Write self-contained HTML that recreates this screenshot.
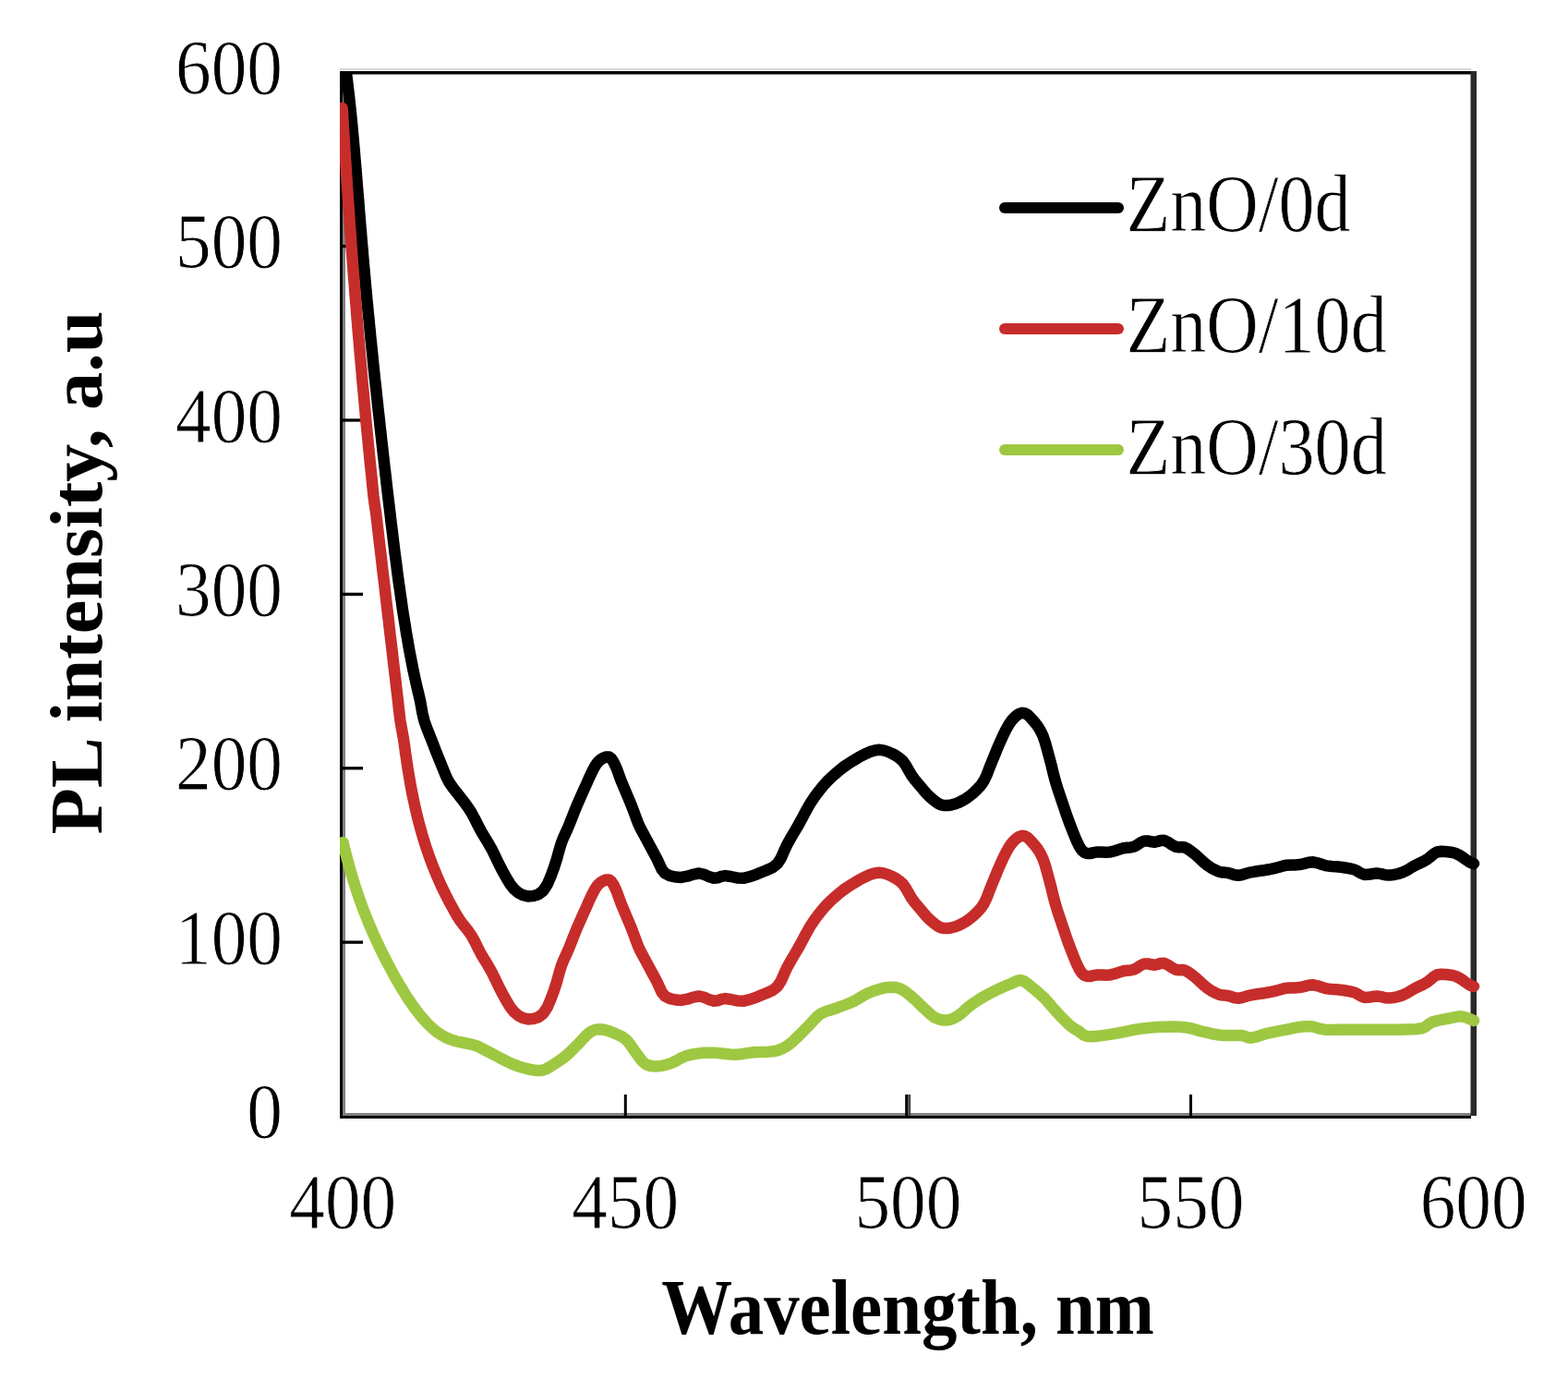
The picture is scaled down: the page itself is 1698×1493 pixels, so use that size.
<!DOCTYPE html>
<html><head><meta charset="utf-8"><title>PL intensity</title>
<style>html,body{margin:0;padding:0;background:#fff;}svg{display:block;}
text{font-family:"Liberation Serif","Times New Roman",serif;fill:#000;}
.t{stroke:#fff;stroke-width:0.8px;}</style></head>
<body>
<svg width="1698" height="1493" viewBox="0 0 1698 1493">
<rect width="1698" height="1493" fill="#fff"/>
<defs><clipPath id="pa"><rect x="368" y="77" width="1240" height="1134"/></clipPath></defs>
<rect x="368" y="74" width="1225" height="2" fill="#d8d8d8"/>
<rect x="368" y="77" width="1231" height="3.5" fill="#000"/>
<rect x="368" y="77" width="3" height="1134" fill="#000"/>
<rect x="371" y="80" width="3" height="1125" fill="#808080"/>
<rect x="371" y="1205" width="1222" height="3" fill="#808080"/>
<rect x="368" y="1208" width="1225" height="3" fill="#000"/>
<rect x="1592.5" y="77" width="6.5" height="1131" fill="#2a2a2a"/>
<rect x="675.8" y="1185" width="3" height="23" fill="#000"/>
<rect x="1288.0" y="1185" width="3" height="23" fill="#000"/>
<rect x="980.2" y="1185" width="3" height="23" fill="#000"/><rect x="983.2" y="1185" width="3" height="23" fill="#484848"/>
<rect x="371" y="1018.5" width="22" height="3.3" fill="#000"/>
<rect x="371" y="830.1" width="22" height="3.3" fill="#000"/>
<rect x="371" y="641.7" width="22" height="3.3" fill="#000"/>
<rect x="371" y="453.3" width="22" height="3.3" fill="#000"/>
<rect x="371" y="264.9" width="22" height="3.3" fill="#000"/>
<g clip-path="url(#pa)" fill="none" stroke-linejoin="round" stroke-linecap="round">
<path d="M374.8,78.0 L375.5,83.2 L376.4,90.6 L377.3,98.0 L378.1,104.7 L378.8,111.3 L379.5,118.0 L380.2,124.7 L380.9,131.3 L381.5,138.0 L382.1,144.7 L382.7,151.3 L383.3,158.0 L383.9,164.7 L384.4,171.3 L385.0,178.0 L385.6,184.7 L386.1,191.3 L386.6,198.0 L387.2,204.7 L387.7,211.3 L388.3,218.0 L388.8,224.7 L389.3,231.3 L389.9,238.0 L390.4,244.7 L391.0,251.3 L391.5,258.0 L392.1,264.7 L392.7,271.3 L393.2,278.0 L393.8,284.7 L394.4,291.3 L395.0,298.0 L395.6,304.7 L396.2,311.3 L396.8,318.0 L397.4,324.7 L398.1,331.3 L398.7,338.0 L399.4,344.7 L400.0,351.3 L400.7,358.0 L401.3,364.7 L402.0,371.3 L402.7,378.0 L403.4,384.7 L404.0,391.3 L404.7,398.0 L405.4,404.7 L406.1,411.3 L406.9,418.0 L407.6,424.7 L408.3,431.3 L409.0,438.0 L409.7,444.7 L410.5,451.3 L411.2,458.0 L411.9,464.7 L412.7,471.3 L413.4,478.0 L414.2,484.7 L414.9,491.3 L415.7,498.0 L416.4,504.7 L417.2,511.3 L418.0,518.0 L418.7,524.7 L419.5,531.3 L420.3,538.0 L421.1,544.7 L421.9,551.3 L422.7,558.0 L423.4,564.7 L424.3,571.3 L425.1,578.0 L425.9,584.7 L426.7,591.3 L427.5,598.0 L428.4,604.7 L429.3,611.3 L430.1,618.0 L431.0,624.7 L431.9,631.3 L432.9,638.0 L433.8,644.7 L434.8,651.3 L435.7,658.0 L436.7,664.7 L437.8,671.3 L438.9,678.0 L439.9,684.7 L441.1,691.3 L442.2,698.0 L443.4,704.7 L444.7,711.3 L446.0,718.0 L447.3,724.7 L448.7,731.3 L450.2,738.0 L451.7,744.6 L453.3,751.2 L454.9,758.0 L456.2,765.1 L457.5,772.4 L459.3,780.0 L462.0,787.8 L465.2,795.9 L468.5,804.1 L471.9,812.9 L475.5,821.9 L478.8,830.0 L481.4,836.5 L483.8,842.1 L486.8,847.7 L491.0,853.7 L495.8,859.7 L500.2,865.3 L503.8,870.1 L507.0,874.4 L510.3,879.5 L513.8,885.9 L517.4,893.1 L521.0,900.0 L524.6,906.0 L528.2,911.8 L531.9,918.3 L535.9,926.3 L540.0,934.9 L544.2,943.0 L548.2,950.3 L552.3,957.1 L556.6,962.5 L561.3,966.5 L566.4,969.2 L571.6,970.4 L577.3,970.1 L583.1,968.2 L588.4,964.2 L592.8,957.4 L596.5,948.6 L599.9,939.5 L602.8,930.5 L605.3,921.3 L607.8,913.0 L610.4,906.3 L613.1,900.5 L615.9,894.2 L618.9,886.6 L622.1,878.5 L625.3,870.7 L628.6,863.2 L631.8,856.0 L634.8,849.5 L637.3,843.8 L639.6,838.7 L641.8,834.2 L644.0,830.1 L646.3,826.5 L648.9,823.6 L652.3,821.2 L656.1,819.5 L659.5,819.4 L662.2,821.5 L664.5,825.1 L666.6,829.4 L668.6,834.2 L670.5,839.6 L672.4,844.8 L674.4,849.6 L676.3,854.2 L678.3,858.9 L680.2,863.4 L682.1,867.9 L684.2,873.0 L686.5,879.1 L688.9,885.7 L691.3,891.9 L693.6,896.8 L696.0,901.2 L698.9,906.6 L702.8,913.9 L707.3,922.2 L711.3,929.6 L714.2,935.9 L716.6,941.3 L720.1,945.5 L725.3,948.1 L731.4,949.5 L737.8,949.9 L744.3,948.7 L750.9,946.6 L757.2,945.5 L762.9,946.8 L768.2,949.3 L773.1,950.8 L777.2,950.3 L781.0,948.9 L785.5,948.1 L791.4,949.0 L798.0,950.4 L804.9,950.8 L812.0,949.2 L819.4,946.6 L826.1,943.7 L832.0,941.4 L837.3,938.8 L842.0,934.9 L845.9,928.8 L849.2,921.2 L852.7,913.7 L856.7,906.6 L861.0,899.4 L865.0,892.5 L868.8,885.6 L872.3,878.9 L875.6,873.0 L878.3,868.4 L880.8,864.7 L883.6,860.7 L887.1,856.1 L891.1,851.2 L895.3,846.5 L899.9,841.9 L904.9,837.5 L909.5,833.6 L913.4,830.5 L917.0,828.0 L921.2,825.3 L926.4,822.1 L932.2,818.7 L937.7,815.9 L942.6,813.8 L947.3,812.4 L951.9,811.8 L956.7,812.4 L961.5,813.9 L966.0,815.9 L970.2,818.1 L974.1,820.8 L977.8,824.2 L981.1,828.9 L984.2,834.4 L987.2,839.5 L990.3,843.7 L993.4,847.4 L996.6,851.2 L1000.0,855.3 L1003.5,859.3 L1007.2,863.0 L1011.0,866.3 L1015.0,869.3 L1019.0,871.3 L1022.9,872.1 L1026.9,872.0 L1030.8,871.3 L1034.7,870.2 L1038.7,868.6 L1042.6,866.6 L1046.5,864.3 L1050.4,861.5 L1054.3,858.3 L1058.2,854.6 L1062.0,850.5 L1065.5,845.4 L1068.6,838.9 L1071.4,831.6 L1074.3,824.2 L1077.3,817.0 L1080.2,809.8 L1083.2,803.0 L1086.1,796.6 L1089.1,790.5 L1092.0,785.3 L1094.9,780.9 L1097.9,777.4 L1100.8,774.7 L1103.7,772.8 L1106.6,771.8 L1109.7,772.1 L1113.2,774.2 L1116.8,777.8 L1120.3,781.8 L1123.5,785.9 L1126.4,790.5 L1129.2,796.2 L1131.8,803.5 L1134.1,811.9 L1136.4,820.3 L1138.5,828.3 L1140.4,836.4 L1142.5,844.4 L1144.9,852.5 L1147.6,860.5 L1150.3,868.6 L1153.0,876.6 L1155.8,884.7 L1158.8,892.7 L1162.2,901.4 L1165.7,910.0 L1169.0,916.8 L1171.7,920.8 L1174.2,922.9 L1177.0,924.0 L1180.4,924.1 L1184.2,923.1 L1188.3,922.4 L1192.8,922.4 L1197.6,922.7 L1202.4,922.4 L1207.2,921.2 L1212.0,919.6 L1216.5,918.2 L1220.5,917.7 L1224.1,917.5 L1227.8,916.7 L1231.6,914.7 L1235.4,912.1 L1239.2,910.4 L1243.0,910.4 L1246.8,911.3 L1250.5,911.8 L1253.8,911.0 L1256.9,909.9 L1260.4,909.7 L1264.5,911.6 L1269.0,914.5 L1273.1,916.7 L1276.6,917.2 L1279.7,917.0 L1283.0,917.5 L1286.6,919.4 L1290.4,922.1 L1294.3,925.2 L1298.4,928.9 L1302.7,932.9 L1307.0,936.5 L1311.3,939.4 L1315.7,941.8 L1319.7,943.6 L1323.2,944.4 L1326.3,944.6 L1329.6,945.0 L1333.2,946.1 L1336.9,947.3 L1340.9,947.8 L1345.4,947.0 L1350.2,945.6 L1355.0,944.3 L1359.9,943.5 L1364.7,942.8 L1369.2,942.2 L1373.0,941.5 L1376.3,940.9 L1380.0,940.1 L1384.3,939.0 L1388.9,937.7 L1393.5,936.7 L1398.0,936.4 L1402.5,936.4 L1407.1,936.1 L1412.0,935.1 L1417.0,933.8 L1422.0,933.3 L1427.0,934.3 L1431.9,936.0 L1436.9,937.4 L1441.9,938.0 L1446.8,938.3 L1451.8,938.8 L1456.9,939.5 L1462.0,940.4 L1466.7,941.5 L1470.5,943.4 L1473.8,945.5 L1477.5,946.9 L1481.8,946.8 L1486.5,946.0 L1491.1,945.5 L1495.6,946.1 L1500.0,947.2 L1504.6,947.6 L1509.6,947.0 L1514.7,945.8 L1519.5,944.2 L1523.7,942.2 L1527.6,939.8 L1531.7,937.4 L1536.2,935.2 L1540.8,933.0 L1545.2,930.6 L1548.9,927.7 L1552.4,924.6 L1556.1,922.5 L1560.6,921.8 L1565.3,922.0 L1569.6,922.5 L1573.0,923.0 L1575.9,923.8 L1579.1,925.2 L1583.2,927.7 L1587.7,930.9 L1591.3,933.3 L1593.6,934.4 L1595.1,934.8 L1596.0,935.0" stroke="#000" stroke-width="12.5"/>
<path d="M370.6,117.0 L370.9,122.2 L371.4,129.6 L371.8,137.0 L372.2,143.7 L372.7,150.3 L373.1,157.0 L373.5,163.7 L373.9,170.3 L374.4,177.0 L374.8,183.7 L375.2,190.3 L375.7,197.0 L376.1,203.7 L376.6,210.3 L377.0,217.0 L377.5,223.7 L378.0,230.3 L378.4,237.0 L378.9,243.7 L379.4,250.3 L379.9,257.0 L380.3,263.7 L380.8,270.3 L381.3,277.0 L381.8,283.7 L382.3,290.3 L382.8,297.0 L383.4,303.7 L383.9,310.3 L384.4,317.0 L384.9,323.7 L385.5,330.3 L386.0,337.0 L386.5,343.7 L387.1,350.3 L387.6,357.0 L388.2,363.7 L388.8,370.3 L389.3,377.0 L389.9,383.7 L390.5,390.3 L391.1,397.0 L391.7,403.7 L392.2,410.3 L392.8,417.0 L393.5,423.7 L394.1,430.3 L394.7,437.0 L395.3,443.7 L395.9,450.3 L396.5,457.0 L397.2,463.7 L397.8,470.3 L398.5,477.0 L399.1,483.7 L399.8,490.3 L400.4,497.0 L401.1,503.7 L401.8,510.3 L402.5,517.0 L403.1,523.6 L403.8,530.1 L404.5,537.0 L405.5,544.6 L406.7,552.4 L407.7,560.0 L408.5,566.9 L409.3,573.4 L410.0,580.0 L410.8,586.7 L411.6,593.3 L412.4,600.0 L413.2,606.7 L413.9,613.3 L414.7,620.0 L415.5,626.7 L416.3,633.3 L417.1,640.0 L417.8,646.7 L418.6,653.3 L419.4,660.0 L420.2,666.7 L421.0,673.3 L421.7,680.0 L422.5,686.7 L423.3,693.3 L424.1,700.0 L424.9,706.7 L425.6,713.3 L426.4,720.0 L427.2,726.7 L428.0,733.3 L428.8,740.0 L429.5,746.7 L430.3,753.3 L431.1,760.0 L431.8,766.7 L432.6,773.3 L433.4,780.0 L434.6,786.9 L435.9,793.8 L437.0,800.0 L437.8,805.1 L438.4,809.6 L438.9,814.0 L439.6,818.7 L440.3,823.3 L441.0,828.0 L441.7,832.7 L442.5,837.3 L443.3,842.0 L444.1,846.7 L444.9,851.3 L445.8,856.0 L446.7,860.7 L447.7,865.3 L448.7,870.0 L449.7,874.7 L450.8,879.3 L451.9,884.0 L453.1,888.7 L454.3,893.3 L455.6,898.0 L456.9,902.7 L458.3,907.3 L459.7,912.0 L461.2,916.7 L462.8,921.3 L464.4,926.0 L466.1,930.7 L467.8,935.3 L469.7,940.0 L471.6,944.7 L473.5,949.3 L475.6,954.0 L477.7,958.7 L479.9,963.3 L482.2,968.0 L484.6,972.7 L487.0,977.3 L489.6,982.0 L492.1,986.6 L494.7,991.1 L497.8,996.0 L501.7,1001.2 L506.1,1006.6 L510.3,1012.5 L514.0,1019.1 L517.5,1026.2 L521.0,1033.0 L524.6,1039.0 L528.2,1044.8 L531.9,1051.3 L535.9,1059.3 L540.0,1067.9 L544.2,1076.0 L548.2,1083.3 L552.3,1090.1 L556.6,1095.5 L561.3,1099.5 L566.4,1102.2 L571.6,1103.4 L577.3,1103.1 L583.1,1101.2 L588.4,1097.2 L592.8,1090.4 L596.5,1081.6 L599.9,1072.5 L602.8,1063.5 L605.3,1054.3 L607.8,1046.0 L610.4,1039.3 L613.1,1033.5 L615.9,1027.2 L618.9,1019.6 L622.1,1011.5 L625.3,1003.7 L628.6,996.2 L631.8,989.0 L634.8,982.5 L637.3,976.8 L639.6,971.7 L641.8,967.2 L644.0,963.1 L646.3,959.5 L648.9,956.6 L652.3,954.2 L656.1,952.5 L659.5,952.4 L662.2,954.5 L664.5,958.1 L666.6,962.4 L668.6,967.2 L670.5,972.6 L672.4,977.8 L674.4,982.6 L676.3,987.2 L678.3,991.9 L680.2,996.4 L682.1,1000.9 L684.2,1006.0 L686.5,1012.1 L688.9,1018.7 L691.3,1024.9 L693.6,1029.8 L696.0,1034.2 L698.9,1039.6 L702.8,1046.9 L707.3,1055.2 L711.3,1062.6 L714.2,1068.9 L716.6,1074.3 L720.1,1078.5 L725.3,1081.1 L731.4,1082.5 L737.8,1082.9 L744.3,1081.7 L750.9,1079.6 L757.2,1078.5 L762.9,1079.8 L768.2,1082.3 L773.1,1083.8 L777.2,1083.3 L781.0,1081.9 L785.5,1081.1 L791.4,1082.0 L798.0,1083.4 L804.9,1083.8 L812.0,1082.2 L819.4,1079.6 L826.1,1076.7 L832.0,1074.4 L837.3,1071.8 L842.0,1067.9 L845.9,1061.8 L849.2,1054.2 L852.7,1046.7 L856.7,1039.6 L861.0,1032.4 L865.0,1025.5 L868.8,1018.6 L872.3,1011.9 L875.6,1006.0 L878.3,1001.4 L880.8,997.7 L883.6,993.7 L887.1,989.1 L891.1,984.2 L895.3,979.5 L899.9,974.9 L904.9,970.5 L909.5,966.6 L913.4,963.5 L917.0,961.0 L921.2,958.3 L926.4,955.1 L932.2,951.7 L937.7,948.9 L942.6,946.8 L947.3,945.4 L951.9,944.8 L956.7,945.4 L961.5,946.9 L966.0,948.9 L970.2,951.1 L974.1,953.8 L977.8,957.2 L981.1,961.9 L984.2,967.4 L987.2,972.5 L990.3,976.7 L993.4,980.4 L996.6,984.2 L1000.0,988.3 L1003.5,992.3 L1007.2,996.0 L1011.0,999.3 L1015.0,1002.3 L1019.0,1004.3 L1022.9,1005.1 L1026.9,1005.0 L1030.8,1004.3 L1034.7,1003.2 L1038.7,1001.6 L1042.6,999.6 L1046.5,997.3 L1050.4,994.5 L1054.3,991.3 L1058.2,987.6 L1062.0,983.5 L1065.5,978.4 L1068.6,971.9 L1071.4,964.6 L1074.3,957.2 L1077.3,950.0 L1080.2,942.8 L1083.2,936.0 L1086.1,929.6 L1089.1,923.5 L1092.0,918.3 L1094.9,913.9 L1097.9,910.4 L1100.8,907.7 L1103.7,905.8 L1106.6,904.8 L1109.7,905.1 L1113.2,907.2 L1116.8,910.8 L1120.3,914.8 L1123.5,918.9 L1126.4,923.5 L1129.2,929.2 L1131.8,936.5 L1134.1,944.9 L1136.4,953.3 L1138.5,961.3 L1140.4,969.4 L1142.5,977.4 L1144.9,985.5 L1147.6,993.5 L1150.3,1001.6 L1153.0,1009.6 L1155.8,1017.7 L1158.8,1025.7 L1162.2,1034.4 L1165.7,1043.0 L1169.0,1049.8 L1171.7,1053.8 L1174.2,1055.9 L1177.0,1057.0 L1180.4,1057.1 L1184.2,1056.1 L1188.3,1055.4 L1192.8,1055.4 L1197.6,1055.7 L1202.4,1055.4 L1207.2,1054.2 L1212.0,1052.6 L1216.5,1051.2 L1220.5,1050.7 L1224.1,1050.5 L1227.8,1049.7 L1231.6,1047.7 L1235.4,1045.1 L1239.2,1043.4 L1243.0,1043.4 L1246.8,1044.3 L1250.5,1044.8 L1253.8,1044.0 L1256.9,1042.9 L1260.4,1042.7 L1264.5,1044.6 L1269.0,1047.5 L1273.1,1049.7 L1276.6,1050.2 L1279.7,1050.0 L1283.0,1050.5 L1286.6,1052.4 L1290.4,1055.1 L1294.3,1058.2 L1298.4,1061.9 L1302.7,1065.9 L1307.0,1069.5 L1311.3,1072.4 L1315.7,1074.8 L1319.7,1076.6 L1323.2,1077.4 L1326.3,1077.6 L1329.6,1078.0 L1333.2,1079.1 L1336.9,1080.3 L1340.9,1080.8 L1345.4,1080.0 L1350.2,1078.6 L1355.0,1077.3 L1359.9,1076.5 L1364.7,1075.8 L1369.2,1075.2 L1373.0,1074.5 L1376.3,1073.9 L1380.0,1073.1 L1384.3,1072.0 L1388.9,1070.7 L1393.5,1069.7 L1398.0,1069.4 L1402.5,1069.4 L1407.1,1069.1 L1412.0,1068.1 L1417.0,1066.8 L1422.0,1066.3 L1427.0,1067.3 L1431.9,1069.0 L1436.9,1070.4 L1441.9,1071.0 L1446.8,1071.3 L1451.8,1071.8 L1456.9,1072.5 L1462.0,1073.4 L1466.7,1074.5 L1470.5,1076.4 L1473.8,1078.5 L1477.5,1079.9 L1481.8,1079.8 L1486.5,1079.0 L1491.1,1078.5 L1495.6,1079.1 L1500.0,1080.2 L1504.6,1080.6 L1509.6,1080.0 L1514.7,1078.8 L1519.5,1077.2 L1523.7,1075.2 L1527.6,1072.8 L1531.7,1070.4 L1536.2,1068.2 L1540.8,1066.0 L1545.2,1063.6 L1548.9,1060.7 L1552.4,1057.6 L1556.1,1055.5 L1560.6,1054.8 L1565.3,1055.0 L1569.6,1055.5 L1573.0,1056.0 L1575.9,1056.8 L1579.1,1058.2 L1583.2,1060.7 L1587.7,1063.9 L1591.3,1066.3 L1593.6,1067.4 L1595.1,1067.8 L1596.0,1068.0" stroke="#c62d2a" stroke-width="12.5"/>
<path d="M371.5,912.0 L372.1,914.6 L373.1,918.5 L374.0,922.2 L374.8,925.5 L375.7,928.7 L376.5,931.9 L377.3,934.9 L378.2,938.0 L379.0,940.9 L379.8,943.8 L380.7,946.7 L381.5,949.5 L382.3,952.2 L383.2,954.9 L384.0,957.6 L384.8,960.2 L385.7,962.7 L386.5,965.2 L387.3,967.7 L388.2,970.1 L389.0,972.5 L389.8,974.9 L390.7,977.2 L391.5,979.5 L392.3,981.7 L393.2,984.0 L394.0,986.1 L394.8,988.3 L395.7,990.4 L396.5,992.5 L397.4,994.7 L398.3,996.9 L399.0,998.7 L399.3,999.3 L399.4,999.6 L400.0,1001.1 L401.6,1004.8 L403.8,1009.9 L406.0,1014.8 L408.0,1019.1 L410.0,1023.4 L412.0,1027.6 L414.0,1031.7 L416.0,1035.6 L418.0,1039.6 L420.0,1043.4 L422.0,1047.2 L424.0,1050.9 L426.0,1054.6 L428.0,1058.2 L430.0,1061.7 L432.0,1065.1 L434.0,1068.5 L436.0,1071.8 L438.0,1075.0 L440.0,1078.2 L442.0,1081.3 L444.0,1084.3 L446.0,1087.2 L448.0,1090.0 L450.0,1092.7 L452.0,1095.4 L454.0,1098.0 L456.0,1100.4 L458.0,1102.8 L460.0,1105.0 L462.0,1107.2 L464.0,1109.3 L466.0,1111.2 L468.0,1113.0 L470.0,1114.7 L472.0,1116.4 L474.0,1117.9 L476.0,1119.2 L478.0,1120.5 L480.0,1121.7 L482.0,1122.8 L484.0,1123.7 L486.0,1124.6 L488.0,1125.4 L490.0,1126.1 L492.0,1126.7 L494.0,1127.3 L496.0,1127.8 L498.0,1128.2 L500.0,1128.6 L502.0,1129.0 L504.0,1129.4 L506.0,1129.8 L508.0,1130.2 L510.0,1130.6 L512.0,1131.1 L514.0,1131.7 L515.5,1132.1 L517.0,1132.6 L520.0,1134.1 L525.7,1137.1 L533.0,1140.9 L539.8,1144.5 L545.3,1147.4 L550.4,1149.9 L555.4,1152.2 L560.6,1154.2 L565.7,1155.8 L570.9,1157.1 L576.1,1158.3 L581.4,1159.1 L586.4,1159.0 L591.1,1157.5 L595.5,1155.0 L600.0,1152.2 L604.6,1149.2 L609.2,1146.0 L613.6,1142.5 L617.5,1139.0 L621.3,1135.2 L625.3,1131.2 L629.9,1126.3 L634.8,1121.1 L639.5,1117.1 L643.7,1115.1 L647.6,1114.4 L651.8,1114.5 L656.5,1115.4 L661.3,1117.0 L666.0,1118.9 L670.3,1120.8 L674.4,1122.9 L678.3,1125.9 L682.0,1130.2 L685.4,1135.2 L688.9,1140.1 L692.3,1144.7 L695.7,1149.1 L699.5,1152.4 L704.0,1154.0 L708.8,1154.4 L713.7,1154.2 L718.4,1153.6 L723.1,1152.3 L727.8,1150.7 L732.4,1148.5 L736.9,1145.8 L741.9,1143.6 L747.5,1142.0 L753.6,1140.9 L759.6,1140.1 L765.4,1139.8 L771.3,1139.8 L777.3,1140.1 L783.6,1140.7 L790.2,1141.5 L796.7,1141.8 L803.1,1141.2 L809.5,1140.1 L816.1,1139.2 L823.3,1138.9 L830.7,1138.9 L837.3,1138.3 L842.6,1137.1 L847.2,1135.3 L851.5,1133.0 L855.8,1129.9 L859.8,1126.3 L863.9,1122.4 L868.0,1118.4 L872.1,1114.2 L876.2,1110.0 L880.1,1105.7 L884.1,1101.4 L888.6,1097.7 L894.2,1095.1 L900.3,1093.2 L906.5,1091.2 L912.5,1089.0 L918.4,1086.7 L924.2,1084.2 L929.5,1081.3 L934.6,1078.1 L940.1,1075.3 L946.5,1072.8 L953.3,1070.6 L959.5,1069.2 L964.7,1068.7 L969.2,1068.9 L973.6,1070.0 L977.8,1071.9 L981.8,1074.7 L986.0,1078.0 L990.6,1082.1 L995.5,1086.8 L1000.1,1091.2 L1004.4,1095.2 L1008.4,1098.9 L1012.5,1101.8 L1016.6,1103.5 L1020.8,1104.4 L1024.9,1104.5 L1029.0,1103.8 L1033.1,1102.3 L1037.2,1100.1 L1041.2,1097.0 L1045.2,1093.3 L1049.6,1089.5 L1054.6,1085.9 L1059.9,1082.3 L1065.5,1078.9 L1071.5,1075.7 L1077.6,1072.6 L1083.2,1070.0 L1087.8,1067.9 L1091.7,1066.2 L1095.5,1064.7 L1099.2,1063.0 L1102.6,1061.5 L1106.1,1061.2 L1109.5,1062.6 L1112.9,1065.2 L1116.7,1068.3 L1121.2,1071.9 L1126.0,1076.0 L1130.9,1080.6 L1135.6,1085.7 L1140.3,1091.2 L1145.0,1096.5 L1149.9,1101.7 L1154.8,1106.6 L1159.2,1110.7 L1162.7,1113.3 L1165.6,1115.0 L1168.5,1116.6 L1171.0,1118.7 L1173.5,1120.7 L1177.0,1122.0 L1182.3,1122.2 L1188.6,1121.7 L1195.3,1120.9 L1202.3,1119.9 L1209.5,1118.6 L1216.5,1117.3 L1222.5,1116.1 L1228.2,1114.9 L1234.9,1113.8 L1243.4,1112.9 L1252.8,1112.1 L1261.8,1111.7 L1269.9,1111.6 L1277.4,1111.8 L1284.4,1112.4 L1290.3,1113.5 L1295.6,1115.1 L1301.3,1116.6 L1308.0,1118.2 L1315.3,1119.8 L1322.5,1120.9 L1329.9,1121.1 L1337.4,1120.9 L1343.7,1120.9 L1348.0,1121.9 L1351.2,1123.2 L1355.0,1123.7 L1360.1,1122.6 L1365.8,1120.7 L1372.0,1118.8 L1379.1,1117.3 L1386.8,1115.9 L1393.5,1114.7 L1398.6,1113.6 L1402.9,1112.7 L1407.1,1112.0 L1411.6,1111.5 L1416.1,1111.2 L1420.6,1111.3 L1424.6,1112.3 L1428.7,1113.7 L1434.2,1114.7 L1442.2,1115.0 L1451.8,1114.8 L1461.3,1114.7 L1470.3,1114.7 L1479.4,1114.7 L1488.4,1114.7 L1497.5,1114.8 L1506.6,1114.8 L1515.4,1114.7 L1524.2,1114.5 L1532.8,1114.2 L1539.8,1113.3 L1544.1,1111.4 L1547.0,1108.8 L1550.7,1106.6 L1556.6,1105.0 L1563.4,1103.6 L1569.6,1102.5 L1574.6,1101.4 L1578.9,1100.6 L1583.2,1100.5 L1588.0,1101.7 L1592.7,1103.6 L1596.0,1105.0" stroke="#9ec842" stroke-width="12.5"/>
</g>
<text transform="translate(306,1232.2) scale(0.9202,1)" text-anchor="end" font-size="84" class="t">0</text>
<text transform="translate(306,1043.8) scale(0.9202,1)" text-anchor="end" font-size="84" class="t">100</text>
<text transform="translate(306,855.4) scale(0.9202,1)" text-anchor="end" font-size="84" class="t">200</text>
<text transform="translate(306,667.0) scale(0.9202,1)" text-anchor="end" font-size="84" class="t">300</text>
<text transform="translate(306,478.6) scale(0.9202,1)" text-anchor="end" font-size="84" class="t">400</text>
<text transform="translate(306,290.2) scale(0.9202,1)" text-anchor="end" font-size="84" class="t">500</text>
<text transform="translate(306,101.8) scale(0.9202,1)" text-anchor="end" font-size="84" class="t">600</text>
<text transform="translate(371.2,1330) scale(0.9202,1)" text-anchor="middle" font-size="84" class="t">400</text>
<text transform="translate(677.3,1330) scale(0.9202,1)" text-anchor="middle" font-size="84" class="t">450</text>
<text transform="translate(983.4,1330) scale(0.9202,1)" text-anchor="middle" font-size="84" class="t">500</text>
<text transform="translate(1289.5,1330) scale(0.9202,1)" text-anchor="middle" font-size="84" class="t">550</text>
<text transform="translate(1595.6,1330) scale(0.9202,1)" text-anchor="middle" font-size="84" class="t">600</text>
<text transform="translate(983,1443.5) scale(0.915,1)" text-anchor="middle" font-size="84" font-weight="bold">Wavelength, nm</text>
<text transform="translate(109.5,620) rotate(-90) scale(1.0,0.988)" text-anchor="middle" font-size="82.3" font-weight="bold">PL intensity, a.u</text>
<line x1="1088" y1="225" x2="1211" y2="225" stroke="#000" stroke-width="12" stroke-linecap="round"/>
<text transform="translate(1219.5,249.7) scale(0.8846,1)" font-size="88.4" class="t">ZnO/0d</text>
<line x1="1088" y1="356" x2="1211" y2="356" stroke="#c62d2a" stroke-width="12" stroke-linecap="round"/>
<text transform="translate(1219.5,381.2) scale(0.8846,1)" font-size="88.4" class="t">ZnO/10d</text>
<line x1="1088" y1="487" x2="1211" y2="487" stroke="#9ec842" stroke-width="12" stroke-linecap="round"/>
<text transform="translate(1219.5,512.7) scale(0.8846,1)" font-size="88.4" class="t">ZnO/30d</text>
</svg>
</body></html>
